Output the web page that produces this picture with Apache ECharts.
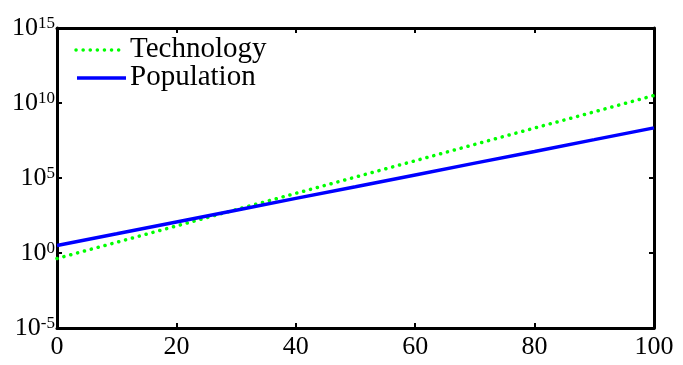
<!DOCTYPE html>
<html>
<head>
<meta charset="utf-8">
<script src="https://cdn.jsdelivr.net/npm/echarts@6/dist/echarts.min.js"></script>
<style>
html,body{margin:0;padding:0;background:#fff;}
#c{width:683px;height:365px;}
</style>
</head>
<body>
<div id="c"></div>
<script>
var years = [0, 10, 20, 30, 40, 50, 60, 70, 80, 90, 100];
var technology = [0.43, 5.2, 63, 776, 9.5e3, 1.15e5, 1.41e6, 1.74e7, 2.14e8, 2.57e9, 3.16e10];
var population = [3.2, 19, 117, 708, 4.4e3, 2.6e4, 1.6e5, 9.8e5, 5.9e6, 3.6e7, 2.2e8];
var seriesNames = ['Technology', 'Population'];
var xTicks = [0, 20, 40, 60, 80, 100];
var yTickExps = [-5, 0, 5, 10, 15];

var font = '"Liberation Serif", "Times New Roman", serif';
function pairs(xs, ys){ return xs.map(function(x,i){ return [x, ys[i]]; }); }

var chart = echarts.init(document.getElementById('c'));
chart.setOption({
  backgroundColor: '#fff',
  animation: false,
  grid: {left: 57, right: 29, top: 28, bottom: 37, containLabel: false},
  graphic: [
    {type: 'line', shape: {x1: 76, y1: 50, x2: 124, y2: 50},
     style: {stroke: '#00ff00', lineWidth: 3.5, lineDash: [0.1, 7], lineCap: 'round'}},
    {type: 'text', left: 130, top: 35,
     style: {text: seriesNames[0], font: '29px ' + font, fill: '#000'}},
    {type: 'line', shape: {x1: 77, y1: 78, x2: 126, y2: 78},
     style: {stroke: '#0000ff', lineWidth: 3.5}},
    {type: 'text', left: 130, top: 63,
     style: {text: seriesNames[1], font: '29px ' + font, fill: '#000'}}
  ],
  xAxis: [{
    type: 'value', min: xTicks[0], max: xTicks[xTicks.length-1], interval: 20,
    axisLine: {show: true, lineStyle: {color: '#000', width: 3}},
    axisTick: {show: true, inside: true, length: 5, lineStyle: {color: '#000', width: 2}},
    axisLabel: {fontFamily: font, fontSize: 26, color: '#000', margin: 6},
    splitLine: {show: false}
  }, {
    type: 'value', position: 'top', min: 0, max: 100, interval: 20,
    axisLine: {show: true, onZero: false, lineStyle: {color: '#000', width: 3}},
    axisTick: {show: true, inside: true, length: 5, lineStyle: {color: '#000', width: 2}},
    axisLabel: {show: false}, splitLine: {show: false}
  }],
  yAxis: [{
    type: 'log', logBase: 10, min: Math.pow(10, yTickExps[0]), max: Math.pow(10, yTickExps[yTickExps.length-1]), interval: 5,
    axisLine: {show: true, lineStyle: {color: '#000', width: 3}},
    axisTick: {show: true, inside: true, length: 5, lineStyle: {color: '#000', width: 2}},
    axisLabel: {
      margin: 2,
      formatter: function(v){
        var e = Math.round(Math.log10(v));
        return '{b|10}{s|' + e + '}';
      },
      rich: {
        b: {fontFamily: font, fontSize: 26, lineHeight: 26, color: '#000'},
        s: {fontFamily: font, fontSize: 17, lineHeight: 17, color: '#000', verticalAlign: 'top'}
      }
    },
    splitLine: {show: false}
  }, {
    type: 'log', logBase: 10, position: 'right', min: 1e-5, max: 1e15, interval: 5,
    axisLine: {show: true, onZero: false, lineStyle: {color: '#000', width: 3}},
    axisTick: {show: true, inside: true, length: 5, lineStyle: {color: '#000', width: 2}},
    axisLabel: {show: false}, splitLine: {show: false}
  }],
  series: [{
    name: seriesNames[0], type: 'line', showSymbol: false, symbol: 'none',
    data: pairs(years, technology),
    lineStyle: {color: '#00ff00', width: 3.5, type: [0.1, 7], cap: 'round'}
  }, {
    name: seriesNames[1], type: 'line', showSymbol: false, symbol: 'none',
    data: pairs(years, population),
    lineStyle: {color: '#0000ff', width: 3.5, type: 'solid'}
  }]
});
</script>
</body>
</html>
